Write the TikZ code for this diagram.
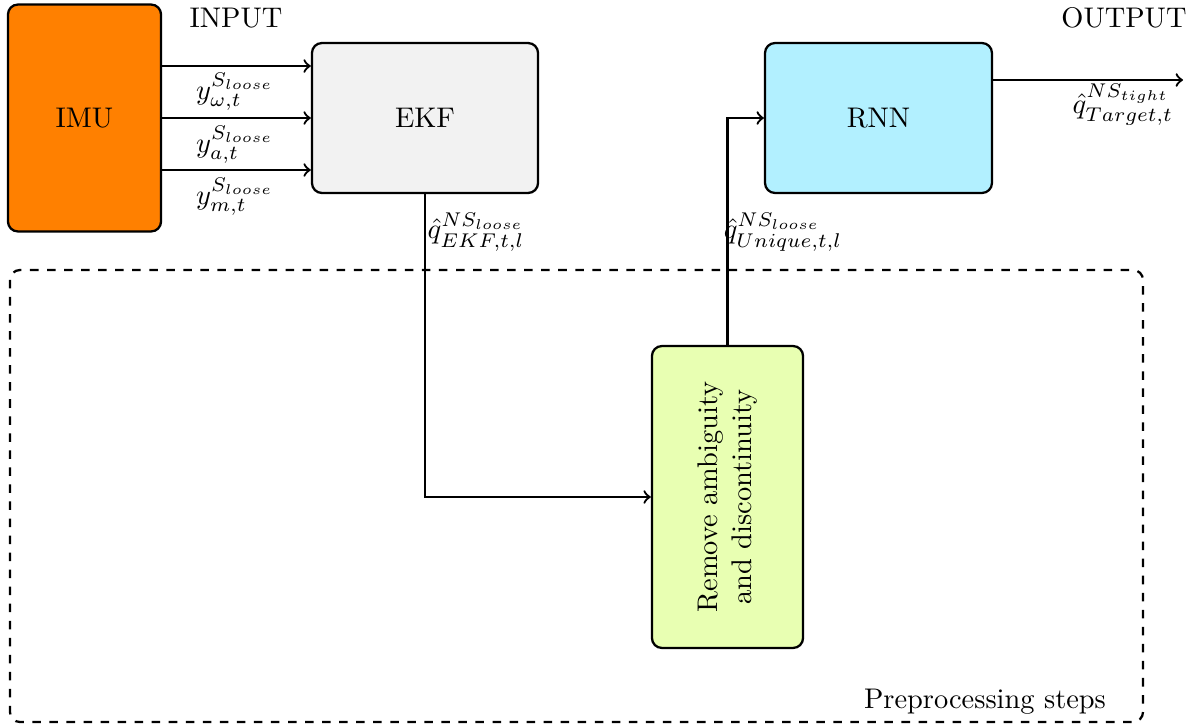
\documentclass[tikz,border=0pt]{standalone}
\usetikzlibrary{arrows}
\definecolor{imuorange}{RGB}{255,128,0}
\definecolor{ekfgray}{RGB}{242,242,242}
\definecolor{rnncyan}{RGB}{178,240,255}
\definecolor{prelime}{RGB}{232,255,178}
\begin{document}
\begin{tikzpicture}[x=0.3521pt,y=-0.3521pt,
  block/.style={draw,thick,rounded corners=3.5pt,align=center,inner sep=0pt},
  flow/.style={->,thick},
  lbl/.style={inner sep=1pt}]
\useasboundingbox (0,0) rectangle (1199,727);

% processing blocks
\node[block,fill=imuorange,minimum width=53.9pt,minimum height=79.9pt] (imu) at (84.5,118) {IMU};
\node[block,fill=ekfgray,minimum width=79.6pt,minimum height=52.8pt] (ekf) at (425,118) {EKF};
\node[block,fill=rnncyan,minimum width=79.9pt,minimum height=52.8pt] (rnn) at (878.5,118) {RNN};

% preprocessing group
\draw[thick,dashed,rounded corners=3.5pt] (10,270) rectangle (1143,722);
\node[lbl] (pre) at (985,702) {Preprocessing steps};
\node[block,fill=prelime,rotate=90,minimum width=106.3pt,minimum height=53.2pt] (rem) at (727.5,497)
  {Remove ambiguity\\and discontinuity};

% headings
\node[lbl] (inp) at (236,18) {INPUT};
\node[lbl] (outp) at (1124,18) {OUTPUT};

% sensor inputs
\draw[flow] ([yshift=18.3pt]imu.east) -- ([yshift=18.3pt]ekf.west);
\draw[flow] (imu.east) -- (ekf.west);
\draw[flow] ([yshift=-18.3pt]imu.east) -- ([yshift=-18.3pt]ekf.west);
\node[lbl] (yw) at (235,92) {$y^{S_{loose}}_{\omega,t}$};
\node[lbl] (ya) at (235,145) {$y^{S_{loose}}_{a,t}$};
\node[lbl] (ym) at (235,197) {$y^{S_{loose}}_{m,t}$};

% EKF -> preprocessing -> RNN
\draw[flow] (ekf.south) |- (rem.north);
\node[lbl] (qekf) at (476,232) {$\hat{q}^{NS_{loose}}_{EKF,t,l}$};
\draw[flow] (rem.east) |- (rnn.west);
\node[lbl] (quni) at (783,232) {$\hat{q}^{NS_{loose}}_{Unique,t,l}$};

% output
\coordinate (out) at (1183,80);
\draw[flow] (rnn.east |- out) -- (out);
\node[lbl] (qout) at (1123,105) {$\hat{q}^{NS_{tight}}_{Target,t}$};
\end{tikzpicture}
\end{document}
